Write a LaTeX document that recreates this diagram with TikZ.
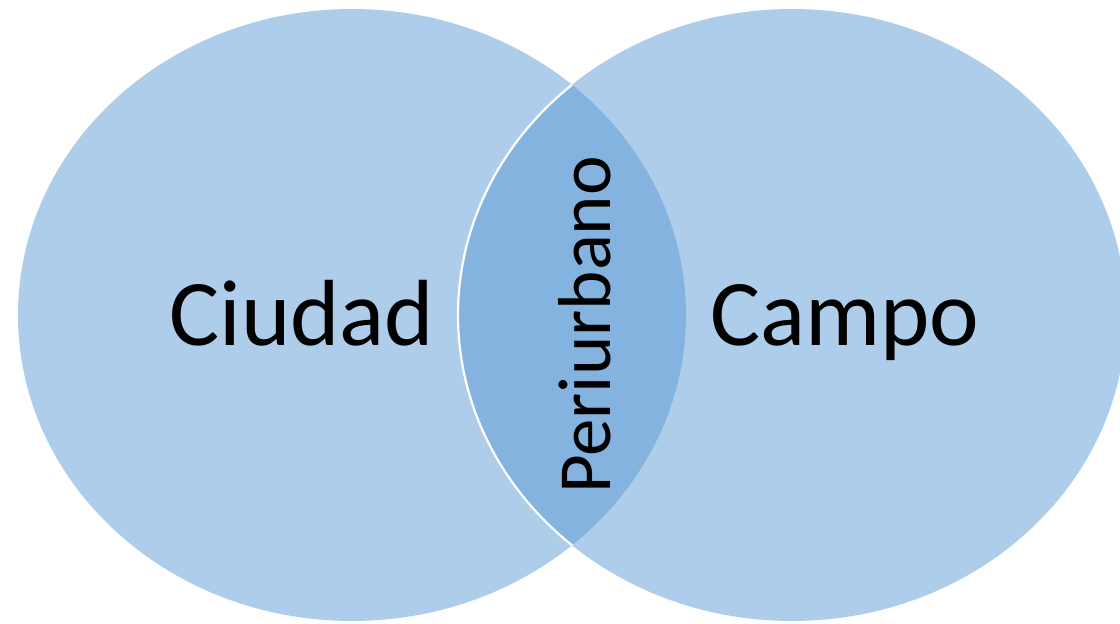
\documentclass[tikz,border=0pt]{standalone}
\usepackage{fontspec}
\setmainfont{Carlito}
\definecolor{lightblue}{RGB}{174,205,234}
\definecolor{lensblue}{RGB}{133,179,223}
\begin{document}
\begin{tikzpicture}[x=1pt,y=-1pt,
  lbl/.style={inner sep=0pt,text=black,font=\fontsize{94}{100}\selectfont},
  lenslbl/.style={inner sep=0pt,text=black,font=\fontsize{75}{84}\selectfont,rotate=90}]
\useasboundingbox (0,0) rectangle (1120,624);
\coordinate (cl) at (352,315);
\coordinate (cr) at (792,315);
\fill[lightblue] (cl) ellipse [x radius=334, y radius=306];
\fill[lightblue] (cr) ellipse [x radius=334, y radius=306];
\begin{scope}
  \clip (cl) ellipse [x radius=334, y radius=306];
  \fill[lensblue] (cr) ellipse [x radius=334, y radius=306];
\end{scope}
\begin{scope}
  \clip (cl) ellipse [x radius=334, y radius=306];
  \draw[white,line width=2.2] (cr) ellipse [x radius=334, y radius=306];
\end{scope}
\node[lbl,anchor=base] (ciudad) at (302,345) {Ciudad};
\node[lbl,anchor=base] (campo) at (845,345) {Campo};
\node[lenslbl,anchor=base] (peri) at (610,325) {Periurbano};
\end{tikzpicture}
\end{document}
